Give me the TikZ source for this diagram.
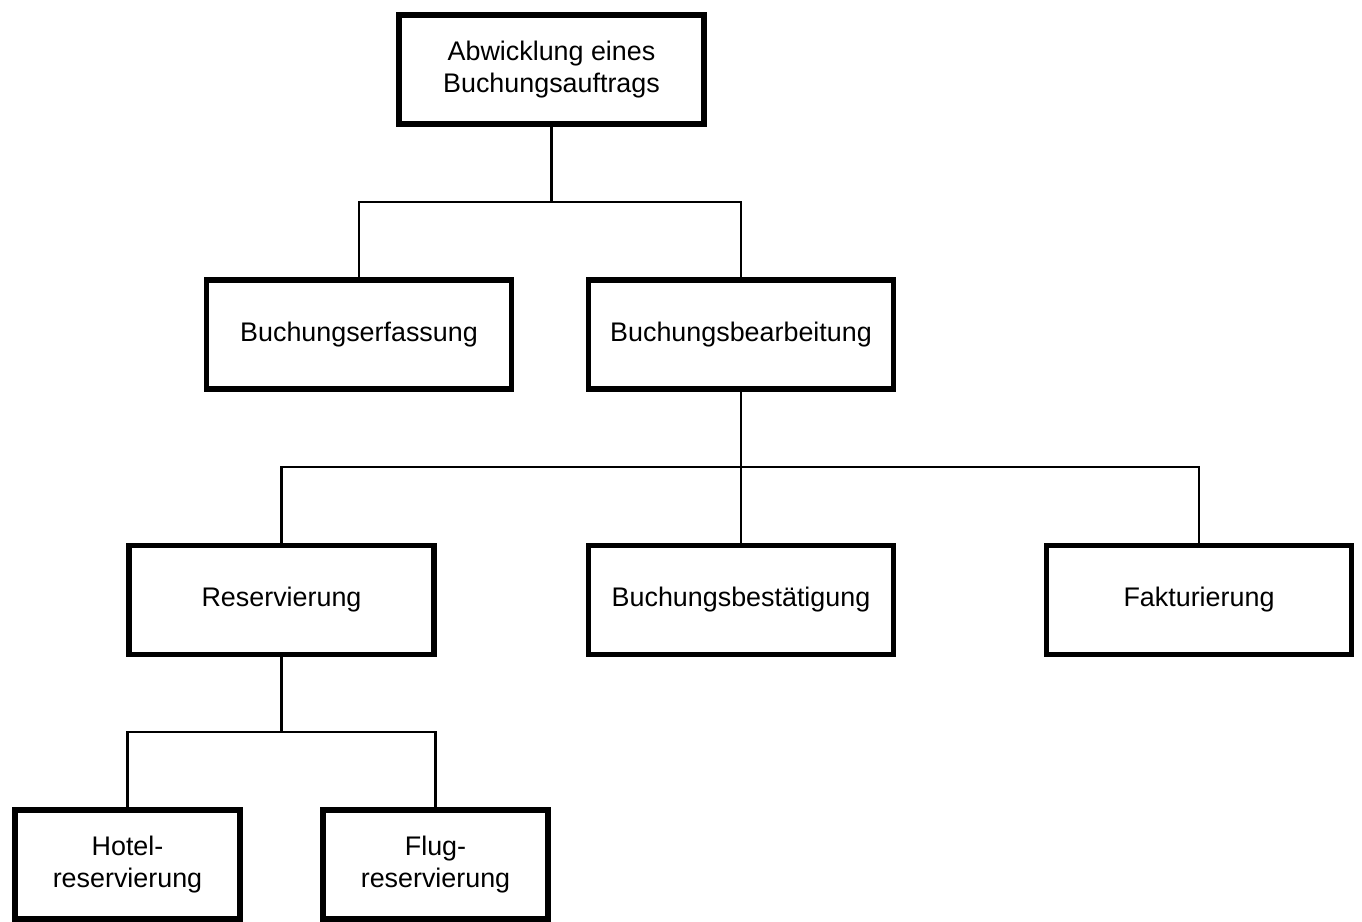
\documentclass[tikz,border=0pt]{standalone}
\usepackage{fontspec}
\setmainfont{Liberation Sans}
\usepackage{tikz}
\usetikzlibrary{positioning}

\begin{document}
\begin{tikzpicture}[x=0.02cm,y=-0.02cm,
    font=\fontsize{15.3}{18.4}\selectfont,
    task/.style={draw,line width=3.3pt,minimum width=6.1cm,minimum height=2.18cm,
                 align=center,inner sep=2pt},
    leaf/.style={task,minimum width=4.5cm},
    link/.style={line width=1.6pt}]
    \useasboundingbox (0,0) rectangle (1362,922);

    % top level
    \node[task] (top) at (551.5,69.5) {Abwicklung eines\\Buchungsauftrags};

    % second level
    \node[task] (erf)   at (359,334.5) {Buchungserfassung};
    \node[task] (bearb) at (741,334.5) {Buchungsbearbeitung};

    % third level
    \node[task] (res)  at (281.5,600) {Reservierung};
    \node[task] (best) at (741,600)   {Buchungsbest\"atigung};
    \node[task] (fakt) at (1199,600)  {Fakturierung};

    % fourth level
    \node[leaf] (hotel) at (127.5,864.5) {Hotel-\\reservierung};
    \node[leaf] (flug)  at (435.5,864.5) {Flug-\\reservierung};

    % junctions of the tree lines
    \coordinate (bar1) at (551.5,202);
    \coordinate (bar2) at (741,467);
    \coordinate (bar3) at (281.5,732);

    \draw[link] (top.south) -- (bar1);
    \draw[link] (erf.north) |- (bar1) -| (bearb.north);

    \draw[link] (bearb.south) -- (best.north);
    \draw[link] (res.north) |- (bar2) -| (fakt.north);

    \draw[link] (res.south) -- (bar3);
    \draw[link] (hotel.north) |- (bar3) -| (flug.north);
\end{tikzpicture}
\end{document}
